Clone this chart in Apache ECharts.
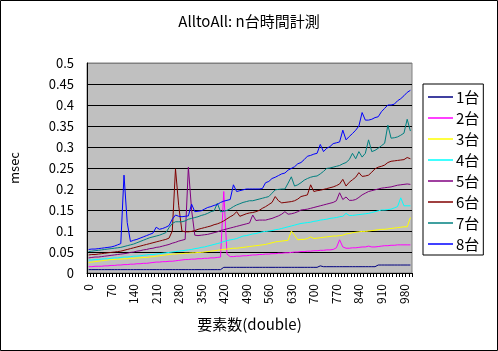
<!DOCTYPE html>
<html>
<head>
<meta charset="utf-8">
<script src="https://cdn.jsdelivr.net/npm/echarts@6/dist/echarts.min.js"></script>
<style>
html,body{margin:0;padding:0;background:#fff;}
#chart{width:498px;height:351px;}
</style>
</head>
<body>
<div id="chart"></div>
<script>
const categories = [0,10,20,30,40,50,60,70,80,90,100,110,120,130,140,150,160,170,180,190,200,210,220,230,240,250,260,270,280,290,300,310,320,330,340,350,360,370,380,390,400,410,420,430,440,450,460,470,480,490,500,510,520,530,540,550,560,570,580,590,600,610,620,630,640,650,660,670,680,690,700,710,720,730,740,750,760,770,780,790,800,810,820,830,840,850,860,870,880,890,900,910,920,930,940,950,960,970,980,990,1000];

const seriesNames = ['1台','2台','3台','4台','5台','6台','7台','8台'];

const s1 = [0.008,0.008,0.008,0.008,0.008,0.008,0.008,0.008,0.008,0.008,0.008,0.008,0.008,0.008,0.008,0.008,0.008,0.008,0.008,0.008,0.008,0.008,0.008,0.008,0.008,0.008,0.008,0.008,0.008,0.008,0.008,0.008,0.008,0.008,0.008,0.008,0.008,0.008,0.008,0.008,0.008,0.008,0.0135,0.0135,0.0135,0.0135,0.0135,0.0135,0.0135,0.0135,0.0135,0.0135,0.0135,0.0135,0.0135,0.0135,0.0135,0.0135,0.0135,0.0135,0.0135,0.0135,0.0135,0.0135,0.0135,0.0135,0.0135,0.0135,0.0135,0.0135,0.0135,0.0135,0.017,0.015,0.015,0.015,0.015,0.015,0.015,0.015,0.015,0.015,0.015,0.015,0.015,0.015,0.015,0.015,0.015,0.015,0.019,0.019,0.019,0.019,0.019,0.019,0.019,0.019,0.019,0.019,0.019];

const s2 = [0.015,0.015,0.016,0.016,0.016,0.017,0.017,0.018,0.018,0.019,0.019,0.020,0.020,0.021,0.021,0.022,0.022,0.023,0.023,0.024,0.025,0.026,0.026,0.027,0.027,0.028,0.028,0.029,0.030,0.031,0.032,0.032,0.033,0.033,0.034,0.034,0.035,0.035,0.036,0.036,0.037,0.038,0.194,0.045,0.039,0.039,0.040,0.040,0.041,0.041,0.042,0.043,0.043,0.044,0.044,0.045,0.045,0.046,0.046,0.047,0.047,0.048,0.048,0.049,0.050,0.050,0.051,0.051,0.052,0.052,0.053,0.053,0.054,0.054,0.055,0.055,0.056,0.060,0.079,0.062,0.059,0.059,0.060,0.060,0.061,0.062,0.062,0.064,0.062,0.062,0.063,0.064,0.065,0.065,0.066,0.066,0.067,0.067,0.067,0.067,0.067];

const s3 = [0.025,0.026,0.027,0.028,0.029,0.030,0.031,0.032,0.032,0.033,0.033,0.034,0.034,0.035,0.035,0.036,0.036,0.037,0.037,0.038,0.039,0.040,0.041,0.042,0.043,0.044,0.045,0.045,0.046,0.046,0.047,0.047,0.048,0.048,0.049,0.049,0.050,0.051,0.052,0.053,0.054,0.055,0.056,0.057,0.058,0.059,0.059,0.060,0.061,0.062,0.063,0.064,0.065,0.066,0.067,0.068,0.070,0.072,0.074,0.075,0.076,0.077,0.078,0.100,0.090,0.079,0.080,0.080,0.082,0.086,0.082,0.083,0.084,0.085,0.086,0.087,0.088,0.088,0.089,0.090,0.093,0.094,0.096,0.097,0.098,0.099,0.099,0.100,0.101,0.102,0.103,0.104,0.104,0.105,0.106,0.107,0.108,0.109,0.110,0.110,0.132];

const s4 = [0.031,0.031,0.032,0.032,0.033,0.034,0.034,0.035,0.036,0.036,0.037,0.038,0.038,0.039,0.040,0.040,0.041,0.042,0.043,0.044,0.044,0.045,0.046,0.047,0.048,0.049,0.050,0.051,0.052,0.053,0.054,0.055,0.056,0.058,0.059,0.061,0.062,0.064,0.066,0.068,0.070,0.072,0.075,0.077,0.079,0.080,0.082,0.085,0.088,0.089,0.091,0.093,0.094,0.096,0.098,0.099,0.100,0.101,0.103,0.104,0.106,0.108,0.110,0.112,0.114,0.116,0.118,0.119,0.120,0.121,0.123,0.124,0.126,0.127,0.128,0.130,0.131,0.132,0.134,0.135,0.142,0.137,0.137,0.138,0.139,0.140,0.141,0.142,0.144,0.146,0.148,0.150,0.150,0.151,0.152,0.155,0.158,0.179,0.160,0.160,0.160];

const s5 = [0.036,0.037,0.038,0.038,0.039,0.040,0.041,0.042,0.043,0.044,0.045,0.046,0.047,0.049,0.050,0.052,0.053,0.055,0.056,0.058,0.059,0.061,0.062,0.064,0.066,0.068,0.071,0.073,0.076,0.078,0.080,0.252,0.150,0.090,0.089,0.090,0.091,0.092,0.094,0.096,0.098,0.101,0.103,0.105,0.107,0.109,0.111,0.113,0.115,0.117,0.119,0.138,0.125,0.126,0.126,0.126,0.128,0.130,0.133,0.136,0.140,0.146,0.140,0.141,0.143,0.146,0.150,0.151,0.152,0.154,0.156,0.158,0.160,0.162,0.164,0.166,0.168,0.172,0.191,0.175,0.181,0.173,0.173,0.175,0.180,0.186,0.190,0.194,0.196,0.198,0.200,0.202,0.203,0.204,0.205,0.207,0.209,0.210,0.211,0.212,0.211];

const s6 = [0.043,0.044,0.044,0.045,0.046,0.047,0.048,0.049,0.050,0.051,0.052,0.054,0.056,0.058,0.060,0.062,0.064,0.066,0.068,0.070,0.072,0.074,0.076,0.078,0.080,0.083,0.100,0.248,0.160,0.100,0.098,0.098,0.099,0.101,0.104,0.106,0.108,0.110,0.112,0.115,0.117,0.120,0.124,0.129,0.134,0.138,0.146,0.135,0.138,0.141,0.143,0.144,0.146,0.149,0.154,0.158,0.163,0.168,0.182,0.172,0.167,0.168,0.169,0.170,0.172,0.176,0.182,0.184,0.186,0.210,0.194,0.196,0.197,0.199,0.201,0.203,0.205,0.208,0.212,0.223,0.207,0.216,0.222,0.228,0.239,0.230,0.231,0.233,0.240,0.248,0.252,0.254,0.257,0.263,0.266,0.267,0.268,0.269,0.270,0.275,0.272];

const s7 = [0.051,0.052,0.053,0.054,0.055,0.056,0.057,0.058,0.059,0.060,0.061,0.063,0.065,0.067,0.069,0.072,0.075,0.078,0.081,0.084,0.086,0.088,0.090,0.093,0.096,0.108,0.118,0.122,0.122,0.122,0.124,0.128,0.130,0.132,0.134,0.137,0.139,0.142,0.146,0.148,0.166,0.146,0.147,0.149,0.153,0.158,0.162,0.165,0.168,0.170,0.172,0.172,0.174,0.176,0.178,0.180,0.182,0.190,0.198,0.199,0.200,0.200,0.214,0.229,0.207,0.210,0.215,0.221,0.225,0.228,0.230,0.231,0.236,0.242,0.249,0.250,0.252,0.254,0.256,0.260,0.263,0.270,0.285,0.272,0.289,0.276,0.285,0.317,0.289,0.292,0.297,0.303,0.309,0.352,0.321,0.322,0.324,0.328,0.333,0.366,0.338];

const s8 = [0.056,0.057,0.057,0.058,0.059,0.060,0.061,0.062,0.064,0.067,0.070,0.233,0.120,0.075,0.078,0.080,0.083,0.086,0.089,0.092,0.095,0.109,0.104,0.106,0.109,0.113,0.128,0.138,0.135,0.134,0.135,0.136,0.164,0.146,0.147,0.148,0.152,0.156,0.158,0.161,0.163,0.168,0.171,0.173,0.175,0.210,0.194,0.196,0.198,0.200,0.200,0.200,0.200,0.200,0.201,0.215,0.218,0.225,0.228,0.232,0.236,0.238,0.245,0.249,0.253,0.260,0.263,0.270,0.278,0.280,0.283,0.285,0.306,0.289,0.297,0.301,0.308,0.310,0.312,0.340,0.317,0.325,0.332,0.340,0.350,0.382,0.364,0.364,0.366,0.370,0.372,0.384,0.392,0.400,0.400,0.402,0.410,0.415,0.422,0.430,0.435];

const seriesValues = [s1, s2, s3, s4, s5, s6, s7, s8];
const seriesColors = ['#000080','#FF00FF','#FFFF00','#00FFFF','#800080','#800000','#008080','#0000FF'];

const FONT = '"Noto Sans CJK JP", "Noto Sans", sans-serif';

const chart = echarts.init(document.getElementById('chart'), null, {renderer: 'canvas'});

const gridColors = ['#000','#000','#000','#000','#000','#000','#000','#000','#000','#000','#808080'];

chart.setOption({
  animation: false,
  backgroundColor: '#fff',
  textStyle: {fontFamily: FONT, color: '#000'},
  title: {
    text: 'AlltoAll: n台時間計測',
    left: 'center',
    top: 14,
    padding: 0,
    textStyle: {fontFamily: FONT, fontSize: 15, fontWeight: 'normal', color: '#000'}
  },
  grid: {
    left: 80, right: 86, top: 63, bottom: 78,
    show: true,
    backgroundColor: '#C0C0C0',
    borderColor: '#808080',
    borderWidth: 1
  },
  legend: {
    orient: 'vertical',
    left: 423,
    top: 84,
    padding: [5, 4, 3, 5],
    itemGap: 5,
    itemWidth: 25,
    itemHeight: 1.5,
    icon: 'rect',
    backgroundColor: '#fff',
    borderColor: '#000',
    borderWidth: 1,
    borderRadius: 0,
    textStyle: {fontFamily: FONT, fontSize: 15, color: '#000', lineHeight: 16, padding: [0,0,0,-2]},
    data: seriesNames
  },
  xAxis: {
    type: 'category',
    data: categories,
    boundaryGap: true,
    name: '要素数(double)',
    nameLocation: 'middle',
    nameGap: 44,
    nameTextStyle: {fontFamily: FONT, fontSize: 15, color: '#000'},
    axisLine: {show: true, lineStyle: {color: '#000', width: 1}},
    axisTick: {show: true, inside: false, length: 4, interval: 0, lineStyle: {color: '#000'}},
    axisLabel: {interval: 6, rotate: 90, margin: 11, fontFamily: FONT, fontSize: 12, color: '#000'},
    splitLine: {show: false}
  },
  yAxis: {
    type: 'value',
    min: 0, max: 0.5, interval: 0.05,
    name: 'msec',
    nameLocation: 'middle',
    nameRotate: 90,
    nameGap: 66,
    nameTextStyle: {fontFamily: FONT, fontSize: 13, color: '#000'},
    axisLine: {show: true, lineStyle: {color: '#000', width: 1}},
    axisTick: {show: false},
    axisLabel: {margin: 13, fontFamily: FONT, fontSize: 13, color: '#000',
      formatter: function (v) { return String(parseFloat(v.toFixed(2))); }},
    splitLine: {show: true, lineStyle: {color: gridColors, width: 1}}
  },
  series: seriesNames.map(function (n, k) {
    return {
      name: n,
      type: 'line',
      data: seriesValues[k],
      symbol: 'none',
      showSymbol: false,
      color: seriesColors[k],
      lineStyle: {color: seriesColors[k], width: 1},
      itemStyle: {color: seriesColors[k]}
    };
  }),
  graphic: [{
    type: 'rect',
    shape: {x: 0.5, y: 0.5, width: 497, height: 350},
    style: {fill: null, stroke: '#000', lineWidth: 1},
    silent: true, z: 100
  }]
});
</script>
</body>
</html>
